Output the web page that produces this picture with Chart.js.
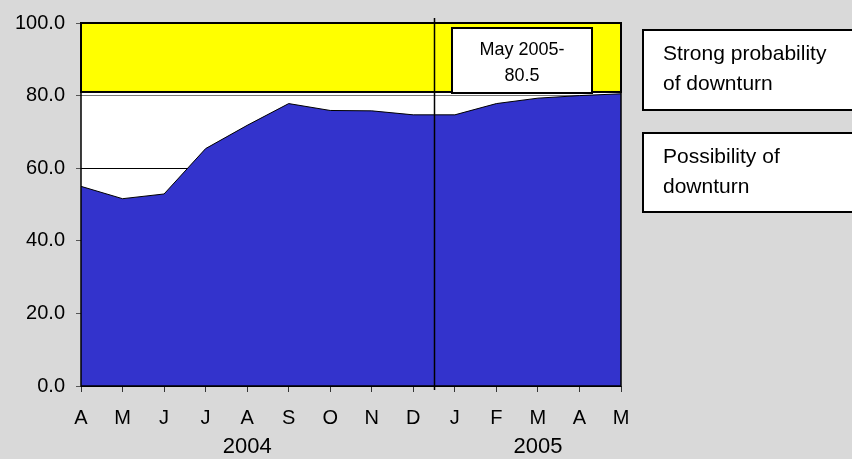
<!DOCTYPE html>
<html>
<head>
<meta charset="utf-8">
<script src="https://cdn.jsdelivr.net/npm/chart.js@4.4.1/dist/chart.umd.min.js"></script>
<style>
  html, body { margin: 0; padding: 0; background: #d9d9d9; }
  #wrap { width: 852px; height: 459px; position: relative; }
</style>
</head>
<body>
<div id="wrap"><canvas id="c" width="852" height="459"></canvas></div>
<script>
// Monthly index, April 2004 to May 2005
const months = ['A', 'M', 'J', 'J', 'A', 'S', 'O', 'N', 'D', 'J', 'F', 'M', 'A', 'M'];
const indexValues = [55.0, 51.6, 52.9, 65.4, 71.8, 77.8, 75.9, 75.8, 74.7, 74.7, 77.8, 79.3, 80.0, 80.5];
const yTicks = [0, 20, 40, 60, 80, 100];
const years = [
  { label: '2004', first: 0, last: 8 },
  { label: '2005', first: 9, last: 13 }
];
const strongThreshold = 81;      // lower edge of the yellow zone
const possibleThreshold = 60;    // lower edge of the white zone
const calloutLines = ['May 2005-', '80.5'];
const zoneNotes = [
  ['Strong probability', 'of downturn'],
  ['Possibility of', 'downturn']
];

const FONT = 'Arial, "Liberation Sans", sans-serif';

const decor = {
  id: 'decor',
  beforeDraw(chart) {
    const { ctx, chartArea: a } = chart;
    ctx.save();
    ctx.fillStyle = '#d9d9d9';
    ctx.fillRect(0, 0, chart.width, chart.height);
    ctx.fillStyle = '#ffffff';
    ctx.fillRect(a.left, a.top, a.right - a.left, a.bottom - a.top);
    ctx.restore();
  },
  beforeDatasetsDraw(chart) {
    const { ctx, chartArea: a, scales: { y } } = chart;
    const yTop = y.getPixelForValue(100);
    const yBot = y.getPixelForValue(strongThreshold);
    ctx.save();
    ctx.fillStyle = '#ffff00';
    ctx.fillRect(a.left, yTop, a.right - a.left, yBot - yTop);
    ctx.strokeStyle = '#000';
    ctx.lineWidth = 2;
    ctx.strokeRect(a.left, yTop, a.right - a.left, yBot - yTop);
    ctx.restore();
  },
  afterDatasetsDraw(chart) {
    const { ctx, chartArea: a, scales: { x } } = chart;
    ctx.save();

    // plot frame
    ctx.strokeStyle = '#000';
    ctx.lineWidth = 1.5;
    ctx.strokeRect(a.left, a.top, a.right - a.left, a.bottom - a.top);

    // divider between the two years
    const xd = (x.getPixelForValue(years[0].last) + x.getPixelForValue(years[1].first)) / 2;
    ctx.beginPath();
    ctx.lineWidth = 1.5;
    ctx.moveTo(Math.round(xd) + 0.5, a.top - 5);
    ctx.lineTo(Math.round(xd) + 0.5, a.bottom + 4);
    ctx.stroke();

    // callout box for the latest value
    const bx = a.left + 371, by = a.top + 5, bw = 140, bh = 65;
    ctx.fillStyle = '#fff';
    ctx.fillRect(bx, by, bw, bh);
    ctx.lineWidth = 2;
    ctx.strokeRect(bx, by, bw, bh);
    ctx.fillStyle = '#000';
    ctx.font = '18px ' + FONT;
    ctx.textAlign = 'center';
    ctx.textBaseline = 'middle';
    ctx.fillText(calloutLines[0], bx + bw / 2, by + 22);
    ctx.fillText(calloutLines[1], bx + bw / 2, by + 48);

    // zone notes on the right
    const nx = 643;
    const boxes = [{ top: 30, h: 80 }, { top: 133, h: 79 }];
    ctx.textAlign = 'left';
    ctx.font = '21px ' + FONT;
    boxes.forEach((b, i) => {
      ctx.fillStyle = '#fff';
      ctx.fillRect(nx, b.top, 240, b.h);
      ctx.lineWidth = 2;
      ctx.strokeStyle = '#000';
      ctx.strokeRect(nx, b.top, 240, b.h);
      ctx.fillStyle = '#000';
      ctx.fillText(zoneNotes[i][0], nx + 20, b.top + 24);
      ctx.fillText(zoneNotes[i][1], nx + 20, b.top + 54);
    });

    // year labels under the month ticks
    ctx.font = '22px ' + FONT;
    ctx.textAlign = 'center';
    years.forEach(yr => {
      const cx = (x.getPixelForValue(yr.first) + x.getPixelForValue(yr.last)) / 2;
      ctx.fillText(yr.label, cx, 447);
    });
    ctx.restore();
  }
};

new Chart(document.getElementById('c'), {
  type: 'line',
  data: {
    labels: months,
    datasets: [{
      data: indexValues,
      fill: 'origin',
      backgroundColor: '#3333cc',
      borderColor: '#000',
      borderWidth: 1,
      pointRadius: 0,
      tension: 0
    }]
  },
  options: {
    responsive: false,
    animation: false,
    devicePixelRatio: 1,
    layout: { padding: { left: 0, top: 20, right: 231, bottom: 0 } },
    plugins: { legend: { display: false }, tooltip: { enabled: false } },
    scales: {
      x: {
        type: 'category',
        offset: false,
        afterFit(s) { s.height = 73; },
        grid: { drawOnChartArea: false, drawTicks: true, tickLength: 6, tickColor: '#333' },
        border: { display: false },
        ticks: { color: '#000', font: { size: 20, family: FONT }, padding: 14, maxRotation: 0, autoSkip: false }
      },
      y: {
        min: 0,
        max: 100,
        afterFit(s) { s.width = 81; },
        afterBuildTicks(s) { s.ticks = yTicks.map(v => ({ value: v })); },
        grid: {
          color: c => (c.tick && c.tick.value === 80) ? '#777' : '#000',
          lineWidth: 1,
          drawTicks: true,
          tickLength: 5,
          tickColor: '#555'
        },
        border: { display: false },
        ticks: {
          color: '#000',
          font: { size: 20, family: FONT },
          padding: 11,
          callback: v => Number(v).toFixed(1)
        }
      }
    }
  },
  plugins: [decor]
});
</script>
</body>
</html>
